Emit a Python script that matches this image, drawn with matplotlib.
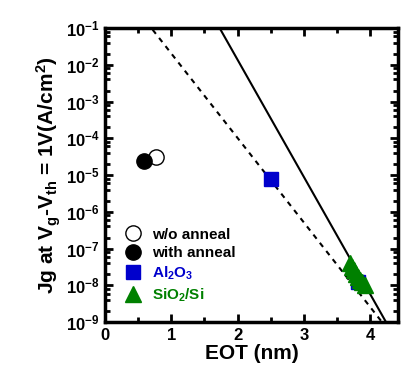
import matplotlib
matplotlib.use('Agg')
import matplotlib.pyplot as plt
from matplotlib.ticker import LogLocator, MultipleLocator, NullFormatter

plt.rcParams.update({
    'font.family': 'Liberation Sans',
    'font.weight': 'bold',
    'mathtext.fontset': 'custom',
    'mathtext.rm': 'Liberation Sans:bold',
    'mathtext.it': 'Liberation Sans:bold',
    'mathtext.bf': 'Liberation Sans:bold',
    'mathtext.sf': 'Liberation Sans:bold',
    'mathtext.default': 'rm',
})

# data
wo_eot = [0.77]
wo_jg = [3.2e-5]
with_eot = [0.59]
with_jg = [2.4e-5]
al2o3_eot = [2.5, 3.82]
al2o3_jg = [8.0e-6, 1.2e-8]
sio2_eot = [3.7, 3.73, 3.76, 3.79, 3.82, 3.85, 3.88, 3.92]
sio2_jg = [4.0e-8, 3.2e-8, 2.6e-8, 2.1e-8, 1.7e-8, 1.4e-8, 1.2e-8, 1.05e-8]
# model lines (endpoints)
solid_eot = [1.73, 4.24]
solid_jg = [1e-1, 1e-9]
dash_eot = [0.72, 4.18]
dash_jg = [9e-2, 1e-9]

fig = plt.figure(figsize=(4.02, 3.79), dpi=100)
ax = fig.add_axes([0.261, 0.150, 0.729, 0.776])

ax.plot(solid_eot, solid_jg, color='black', lw=1.5)
ax.plot(dash_eot, dash_jg, color='black', lw=1.5, ls=(0, (2.5, 2.5)))

ax.plot(al2o3_eot, al2o3_jg, ls='none', marker='s', ms=10, color='#0000cc',
        mec='#0000cc', label='Al$_2$O$_3$')
ax.plot(sio2_eot, sio2_jg, ls='none', marker='^', ms=12, color='#008000',
        mec='#008000', label='SiO$_2$/Si')
ax.plot(wo_eot, wo_jg, ls='none', marker='o', ms=11, mfc='white',
        mec='black', mew=1, label='w/o anneal')
ax.plot(with_eot, with_jg, ls='none', marker='o', ms=11, color='black',
        label='with anneal')

ax.set_yscale('log')
ax.set_xlim(0, 4.42)
ax.set_ylim(1e-9, 1e-1)
ax.xaxis.set_major_locator(MultipleLocator(1))
ax.xaxis.set_minor_locator(MultipleLocator(0.5))
ax.yaxis.set_major_locator(LogLocator(base=10, numticks=20))
ax.yaxis.set_minor_locator(LogLocator(base=10, subs=(2, 4, 6, 8), numticks=20))
ax.yaxis.set_minor_formatter(NullFormatter())

for s in ax.spines.values():
    s.set_linewidth(2.5)
ax.tick_params(which='both', direction='in', top=True, right=True,
               labelsize=12, width=2)
ax.tick_params(which='major', length=6, pad=4)
ax.tick_params(which='minor', length=3.5)

ax.set_xlabel('EOT (nm)', fontsize=15, fontweight='bold', labelpad=1)
ax.set_ylabel('Jg at V$_g$-V$_{th}$ = 1V(A/cm$^2$)', fontsize=15,
              fontweight='bold', labelpad=2)

handles, labels = ax.get_legend_handles_labels()
order = [2, 3, 0, 1]
leg = ax.legend([handles[i] for i in order], [labels[i] for i in order],
                loc='lower left', bbox_to_anchor=(0.027, 0.025), frameon=False,
                fontsize=11, handletextpad=0.65, labelspacing=0.3,
                handlelength=1.2, borderaxespad=0.3)
for t, c in zip(leg.get_texts(), ['black', 'black', '#0000cc', '#008000']):
    t.set_color(c)

fig.savefig('out.png', dpi=100)
